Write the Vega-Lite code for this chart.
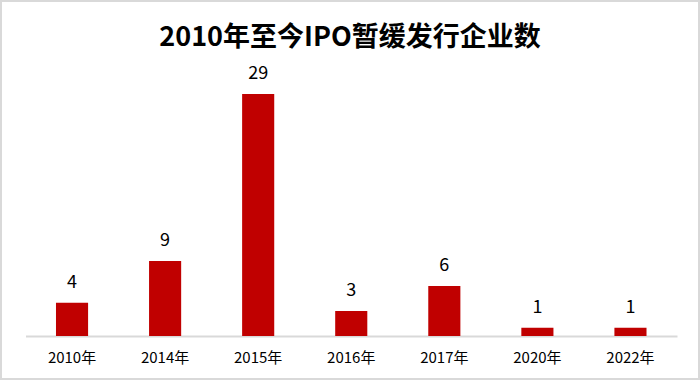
{
  "$schema": "https://vega.github.io/schema/vega-lite/v6.json",
  "autosize": "none",
  "width": 698,
  "height": 378,
  "padding": 1,
  "background": "white",
  "config": {
    "view": {"stroke": "#d9d9d9", "strokeWidth": 2},
    "font": "Noto Sans CJK SC"
  },
  "title": {
    "text": "2010年至今IPO暂缓发行企业数",
    "fontSize": 27,
    "fontWeight": "bold",
    "color": "#000000",
    "anchor": "middle",
    "offset": -51,
    "font": "Noto Sans CJK SC"
  },
  "data": {
    "values": [
      {"year": "2010年", "count": 4},
      {"year": "2014年", "count": 9},
      {"year": "2015年", "count": 29},
      {"year": "2016年", "count": 3},
      {"year": "2017年", "count": 6},
      {"year": "2020年", "count": 1},
      {"year": "2022年", "count": 1}
    ]
  },
  "encoding": {
    "x": {
      "field": "year",
      "type": "nominal",
      "sort": null,
      "scale": {"range": [24.5, 676], "paddingInner": 0, "paddingOuter": 0},
      "axis": {
        "title": null,
        "labelAngle": 0,
        "ticks": false,
        "domainColor": "#d9d9d9",
        "domainWidth": 2,
        "offset": -43,
        "labelFontSize": 15,
        "labelColor": "#000000",
        "labelPadding": 14,
        "labelFont": "Noto Sans CJK SC"
      }
    },
    "y": {
      "field": "count",
      "type": "quantitative",
      "scale": {"domain": [0, 35], "range": [335, 43], "nice": false},
      "axis": null
    }
  },
  "layer": [
    {"mark": {"type": "bar", "color": "#c00000", "width": {"band": 0.345}}},
    {
      "mark": {"type": "text", "baseline": "bottom", "dy": -11, "fontSize": 18, "color": "#000000"},
      "encoding": {"text": {"field": "count", "type": "quantitative"}}
    }
  ]
}
